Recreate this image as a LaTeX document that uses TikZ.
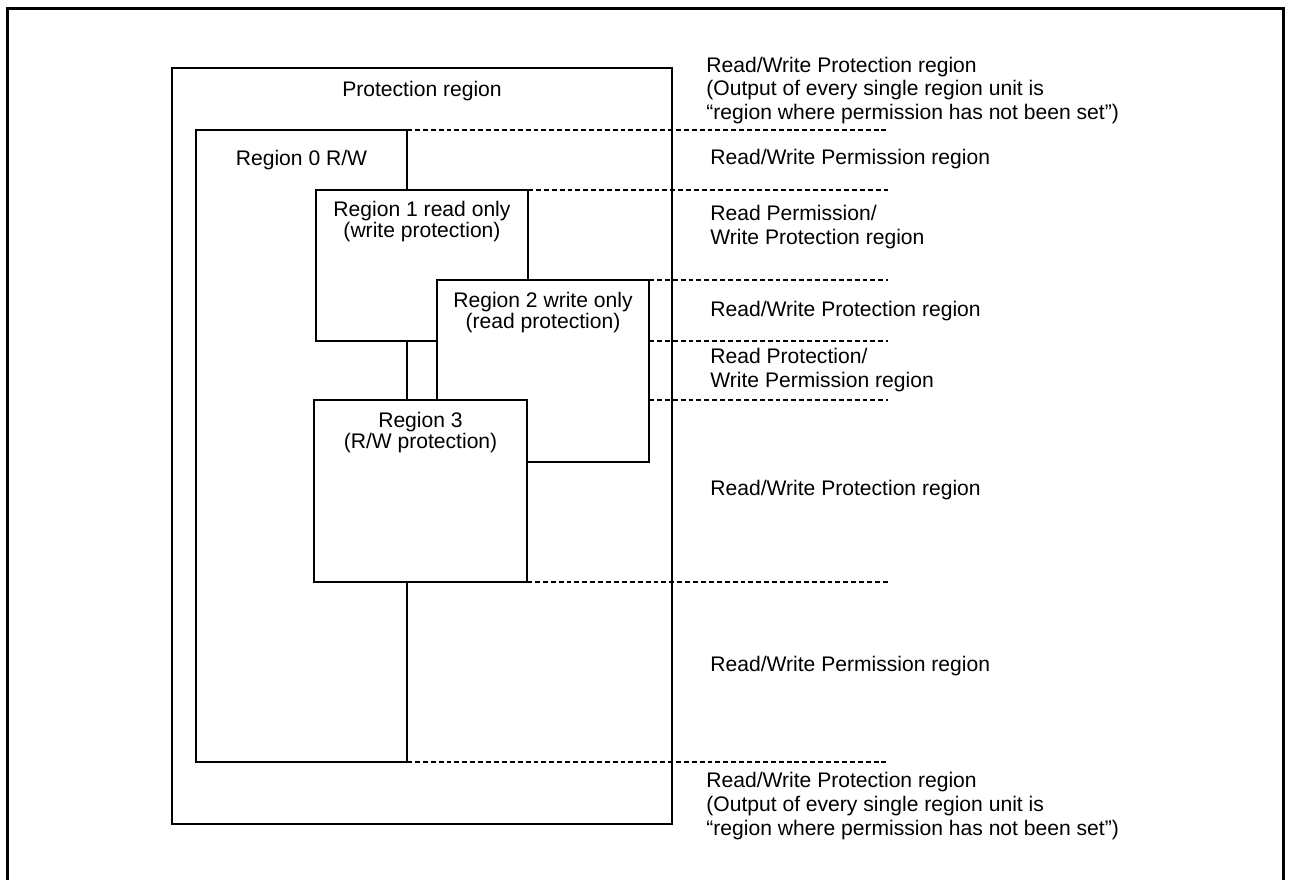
\documentclass[tikz,border=0pt]{standalone}
\usepackage{fontspec}
\setmainfont{Liberation Sans}
\usetikzlibrary{positioning}
\tikzset{
  regbox/.style={
    draw, fill=white, line width=1.1pt, anchor=north west,
    inner sep=0pt, outer sep=0pt,
  },
  boxtext/.style={
    anchor=north, align=center, inner sep=0pt,
    font=\fontsize{12pt}{11.9pt}\selectfont,
  },
  sidetext/.style={
    anchor=west, align=left, inner sep=0pt,
    font=\fontsize{12pt}{13.6pt}\selectfont,
  },
  bandline/.style={
    line width=0.85pt, dash pattern=on 2.8pt off 1.7pt,
  },
}

\begin{document}
\begin{tikzpicture}[x=0.2mm, y=-0.2mm]
\useasboundingbox (0,0) rectangle (1290,880);
\clip (0,0) rectangle (1290,880);

% ── frame ────────────────────────────────────────────────────
\draw[line width=1.7pt] (7.5,8.5) rectangle (1283,900);

% ── protection region and region units ──────────────────────
\node[regbox, line width=0.85pt, minimum width=100mm, minimum height=151.2mm] (prot) at (172,68) {};
\node[boxtext, below=2.5mm of prot.north] (protlbl) {Protection region};

\node[regbox, minimum width=42.2mm, minimum height=126.4mm] (r0) at (196,130) {};
\node[boxtext, below=3.9mm of r0.north] (r0lbl) {Region 0 R/W};

\node[regbox, minimum width=42.4mm, minimum height=30.2mm] (r1) at (316,190) {};
\node[boxtext, below=2.1mm of r1.north] (r1lbl) {Region 1 read only\\(write protection)};

\node[regbox, minimum width=42.4mm, minimum height=36.4mm] (r2) at (437,280) {};
\node[boxtext, below=2.3mm of r2.north] (r2lbl) {Region 2 write only\\(read protection)};

\node[regbox, minimum width=42.6mm, minimum height=36.4mm] (r3) at (314,400) {};
\node[boxtext, below=2.3mm of r3.north] (r3lbl) {Region 3\\(R/W protection)};

% ── band boundaries ──────────────────────────────────────────
\coordinate (rim) at (888,0);
\draw[bandline] (r0.north east) -- (r0.north east -| rim);
\draw[bandline] (r1.north east) -- (r1.north east -| rim);
\draw[bandline] (r2.north east) -- (r2.north east -| rim);
\draw[bandline] (r2.east |- r1.south) -- (rim |- r1.south);
\draw[bandline] (r2.east |- r3.north) -- (rim |- r3.north);
\draw[bandline] (r3.south east) -- (r3.south east -| rim);
\draw[bandline] (r0.south east) -- (r0.south east -| rim);

% ── band labels ──────────────────────────────────────────────
\node[sidetext] (top) at (706,90.5)
  {Read/Write Protection region\\(Output of every single region unit is\\“region where permission has not been set”)};
\node[sidetext] (band1) at (710,159.5) {Read/Write Permission region};
\node[sidetext] (band2) at (710,227) {Read Permission/\\Write Protection region};
\node[sidetext] (band3) at (710,311) {Read/Write Protection region};
\node[sidetext] (band4) at (710,370) {Read Protection/\\Write Permission region};
\node[sidetext] (band5) at (710,490) {Read/Write Protection region};
\node[sidetext] (band6) at (710,666) {Read/Write Permission region};
\node[sidetext] (bottom) at (706,806)
  {Read/Write Protection region\\(Output of every single region unit is\\“region where permission has not been set”)};

\end{tikzpicture}
\end{document}
